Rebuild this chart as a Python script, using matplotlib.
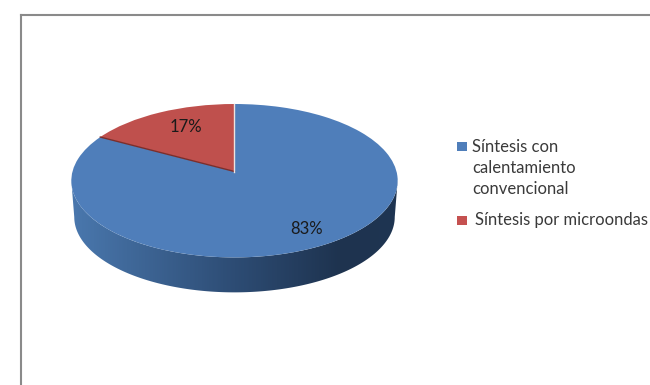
#!/usr/bin/env python3
# -*- coding: utf-8 -*-
"""Pie chart with a tilted 3D look: synthesis method shares."""
import numpy as np
import matplotlib
matplotlib.use("Agg")
import matplotlib.pyplot as plt
from matplotlib.colors import LinearSegmentedColormap
from matplotlib.patches import Polygon, Rectangle
from matplotlib.transforms import Transform

SHARES = [83, 17]
COLORS = ["#4F7EBA", "#BF504D"]
LEGEND_LINES = [["Síntesis con", "calentamiento", "convencional"], ["Síntesis por microondas"]]

FONT = "Lato"
plt.rcParams["font.family"] = [FONT, "DejaVu Sans"]

# disc geometry, in pixels
CX, CY, RX, RY, TILT = 234.5, 171.5, 162.0, 75.6, 0.12
DEPTH, SHRINK = 36.5, 0.982


class Tilted(Transform):
    """Perspective view of the unit disc, far side (v > 0) slightly smaller."""
    input_dims = output_dims = 2

    def __init__(self, cy=CY, scale=1.0):
        super().__init__()
        self.cy, self.scale = cy, scale

    def transform_non_affine(self, values):
        uv = np.asarray(values, dtype=float)
        w = 1 + TILT * uv[:, 1]
        return np.column_stack((CX + self.scale * RX * uv[:, 0] / w,
                                self.cy - self.scale * RY * uv[:, 1] / w))


def main():
    fig = plt.figure(figsize=(6.5, 3.85), dpi=100)
    ax = fig.add_axes([0, 0, 1, 1])

    # top face first so pie() can set up the wedges, then fix the axes to pixels
    wedges, _ = ax.pie(SHARES, colors=COLORS, startangle=90, counterclock=False,
                       wedgeprops={"linewidth": 0})
    ax.set_aspect("auto")
    ax.set_xlim(0, 650)
    ax.set_ylim(385, 0)
    ax.axis("off")

    top = Tilted()
    for w in wedges:
        w.set_transform(top + ax.transData)
        w.set_zorder(3)

    # side wall with left-to-right shading, between the silhouette points of both rims
    t = np.linspace(np.pi + 0.12, 2 * np.pi - 0.12, 200)
    rim = np.column_stack((np.cos(t), np.sin(t)))
    low = Tilted(CY + DEPTH, SHRINK).transform(rim)
    upper = top.transform(rim)[::-1]
    wall = Polygon(np.vstack((low, upper)), closed=True, transform=ax.transData,
                   facecolor="none", edgecolor="none")
    ax.add_patch(wall)
    cmap = LinearSegmentedColormap.from_list(
        "wall", [(0, "#4A78AE"), (0.5, "#2D4C74"), (0.82, "#1E334F"), (1, "#1F3552")])
    img = ax.imshow(np.linspace(0, 1, 330)[None, :], cmap=cmap, aspect="auto",
                    extent=(70, 400, 300, 170), zorder=2)
    img.set_clip_path(wall)
    ax.set_xlim(0, 650)
    ax.set_ylim(385, 0)

    # seams between the two slices
    edge = np.deg2rad(90 - 360 * SHARES[0] / sum(SHARES))
    seam = top.transform(np.array([[0, 0], [np.cos(edge), np.sin(edge)]]))
    ax.plot(seam[:, 0], seam[:, 1], color="#7A2E2C", lw=1.0, zorder=4)
    seam = top.transform(np.array([[0, 0], [0, 1]]))
    ax.plot(seam[:, 0] - 0.5, seam[:, 1], color="#EDE3E0", lw=1.0, zorder=4)

    # percentage labels
    ax.text(307, 229, f"{SHARES[0]}%", ha="center", va="center", fontsize=12, color="#1A1A1A", zorder=5)
    ax.text(185.5, 127.5, f"{SHARES[1]}%", ha="center", va="center", fontsize=12, color="#1A1A1A", zorder=5)

    # legend, laid out by hand
    ax.add_patch(Rectangle((457, 141.5), 10, 9, facecolor=COLORS[0], edgecolor="none"))
    ax.add_patch(Rectangle((457, 215.5), 10, 9, facecolor="#C55150", edgecolor="none"))
    for line, base in zip(LEGEND_LINES[0], [151.5, 173, 194.5]):
        ax.text(472, base, line, ha="left", va="baseline", fontsize=12, color="#3A3A3A")
    ax.text(475, 225.5, LEGEND_LINES[1][0], ha="left", va="baseline", fontsize=12, color="#3A3A3A")

    # chart frame runs off the right and bottom of the image
    ax.plot([21, 21], [385, 15], color="#8A8A8A", lw=1.5, solid_capstyle="projecting")
    ax.plot([21, 650], [15, 15], color="#8A8A8A", lw=1.5, solid_capstyle="projecting")

    fig.savefig("out.png", dpi=100, facecolor="white")
    plt.close(fig)


if __name__ == "__main__":
    main()
